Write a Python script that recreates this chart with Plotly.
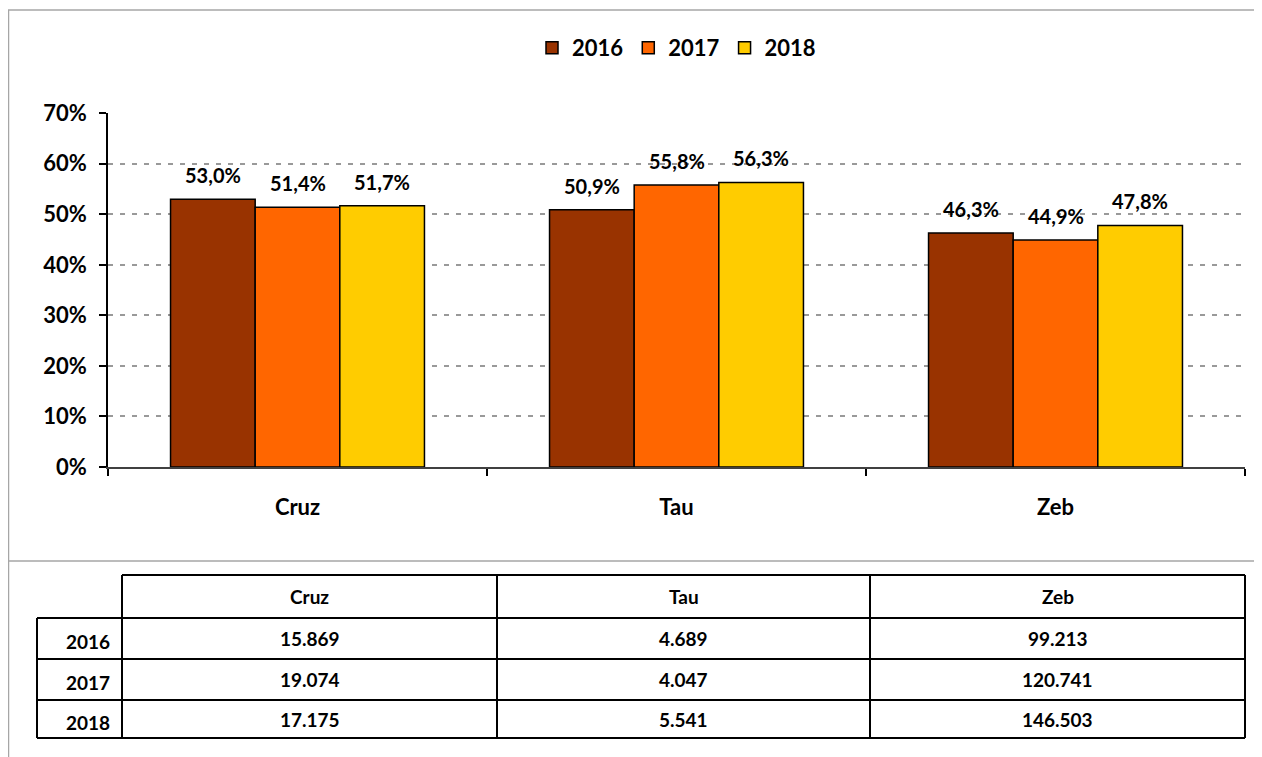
import plotly.graph_objects as go

categories = ["Cruz", "Tau", "Zeb"]
years = ["2016", "2017", "2018"]
share_2016 = [53.0, 50.9, 46.3]
share_2017 = [51.4, 55.8, 44.9]
share_2018 = [51.7, 56.3, 47.8]
counts_2016 = [15869, 4689, 99213]
counts_2017 = [19074, 4047, 120741]
counts_2018 = [17175, 5541, 146503]

colors = ["#993300", "#FF6600", "#FFCC00"]
FONT = "Lato, 'Open Sans', sans-serif"

OFF = 8  # page body margin
W, H = 1262 - OFF, 757 - OFF
L, R, T, B = 108, 1245, 113, 467  # plot area in screen pixels
BARGAP = 0.33


def px(x):
    return (x - L) / (R - L)


def py(y):
    return (B - y) / (B - T)


def pct(v):
    return f"{v:.1f}%".replace(".", ",")


def thousands(v):
    return f"{v:,}".replace(",", ".")


fig = go.Figure()
series = [share_2016, share_2017, share_2018]
for name, vals, col in zip(years, series, colors):
    fig.add_trace(go.Bar(
        x=categories, y=vals, name=name,
        marker=dict(color=col, line=dict(color="black", width=1.5)),
        cliponaxis=False,
    ))

annotations = []
cat_px = (R - L) / len(categories)
bar_px = cat_px * (1 - BARGAP) / len(series)
for k, vals in enumerate(series):
    for c, v in zip(categories, vals):
        annotations.append(dict(xref="x", yref="y", x=c, y=v, text=pct(v), showarrow=False,
                                xshift=(k - 1) * bar_px, yshift=24, xanchor="center", yanchor="middle",
                                font=dict(family=FONT, size=20, color="black", weight="bold")))

shapes = []
gray = dict(color="#A6A6A6", width=1.5)
# outer frame as open paths (left + top, and the separator line)
shapes.append(dict(type="path", xref="paper", yref="paper",
                   path=f"M {px(8.5)},{py(757)} L {px(8.5)},{py(10)} L {px(1262)},{py(10)}",
                   line=gray, fillcolor="rgba(0,0,0,0)"))
shapes.append(dict(type="path", xref="paper", yref="paper",
                   path=f"M {px(8)},{py(561)} L {px(1262)},{py(561)}",
                   line=gray, fillcolor="rgba(0,0,0,0)"))

# table
col_x = [37, 122, 497, 870, 1245]
row_y = [575, 618, 659, 700, 738]
blk = dict(color="black", width=2)
shapes.append(dict(type="line", xref="paper", yref="paper", x0=px(col_x[1]), x1=px(col_x[-1]), y0=py(row_y[0]), y1=py(row_y[0]), line=blk))
for yy in row_y[1:]:
    shapes.append(dict(type="line", xref="paper", yref="paper", x0=px(col_x[0]), x1=px(col_x[-1]), y0=py(yy), y1=py(yy), line=blk))
shapes.append(dict(type="line", xref="paper", yref="paper", x0=px(col_x[0]), x1=px(col_x[0]), y0=py(row_y[1]), y1=py(row_y[-1]), line=blk))
for xx in col_x[1:]:
    shapes.append(dict(type="line", xref="paper", yref="paper", x0=px(xx), x1=px(xx), y0=py(row_y[0]), y1=py(row_y[-1]), line=blk))

tf = dict(family=FONT, size=19, color="black", weight="bold")
for i, c in enumerate(categories):
    cx = (col_x[i + 1] + col_x[i + 2]) / 2
    cy = (row_y[0] + row_y[1]) / 2
    annotations.append(dict(xref="paper", yref="paper", x=px(cx), y=py(cy), text=c,
                            showarrow=False, font=tf, xanchor="center", yanchor="middle"))
for r, (yr, vals) in enumerate(zip(years, [counts_2016, counts_2017, counts_2018])):
    cy = (row_y[r + 1] + row_y[r + 2]) / 2
    annotations.append(dict(xref="paper", yref="paper", x=px(col_x[1] - 10), y=py(cy + 3), text=yr,
                            showarrow=False, font=tf, xanchor="right", yanchor="middle"))
    for i, v in enumerate(vals):
        cx = (col_x[i + 1] + col_x[i + 2]) / 2
        annotations.append(dict(xref="paper", yref="paper", x=px(cx), y=py(cy), text=thousands(v),
                                showarrow=False, font=tf, xanchor="center", yanchor="middle"))

fig.update_layout(
    width=W, height=H,
    margin=dict(l=L - OFF, r=W - (R - OFF), t=T - OFF, b=H - (B - OFF), pad=0),
    paper_bgcolor="white", plot_bgcolor="white",
    barmode="group", bargap=BARGAP, bargroupgap=0,
    font=dict(family=FONT, color="black"),
    showlegend=True,
    legend=dict(orientation="h", x=0.5, xanchor="center", y=py(48), yanchor="middle",
                font=dict(family=FONT, size=22, color="black", weight="bold"),
                itemwidth=30, bgcolor="rgba(0,0,0,0)"),
    xaxis=dict(type="category", showline=True, linecolor="#404040", linewidth=1.5,
               ticks="outside", tickson="boundaries", ticklen=7, tickcolor="black", tickwidth=1.5,
               tickfont=dict(family=FONT, size=22, color="black", weight="bold"),
               ticklabelstandoff=20, showgrid=False, zeroline=False),
    yaxis=dict(range=[0, 70.05], dtick=10, tick0=0, ticksuffix="%",
               showline=True, linecolor="black", linewidth=1.5,
               ticks="outside", ticklen=7, tickcolor="black", tickwidth=1.5,
               tickfont=dict(family=FONT, size=22, color="black", weight="bold"),
               ticklabelstandoff=8,
               showgrid=True, gridcolor="#999999", griddash="5px,7px", gridwidth=2,
               zeroline=False),
    shapes=shapes, annotations=annotations,
)

fig.write_html("out.html")
